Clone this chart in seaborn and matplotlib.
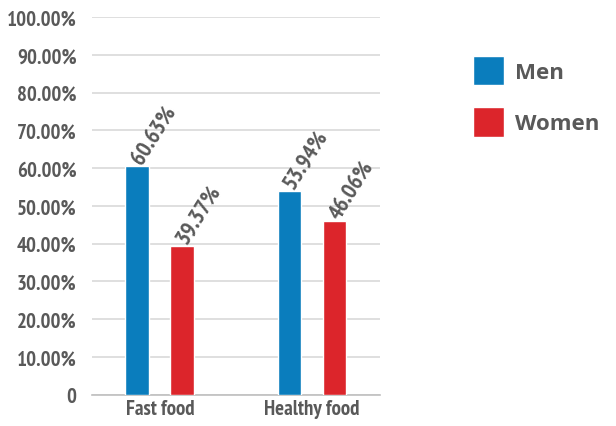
import pandas as pd
import matplotlib
matplotlib.use("Agg")
import matplotlib.pyplot as plt
import seaborn as sns
from matplotlib.ticker import FuncFormatter

categories = ["Fast food", "Healthy food"]
groups = ["Men", "Women"]
men = [60.63, 53.94]
women = [39.37, 46.06]
yticks = [0, 10, 20, 30, 40, 50, 60, 70, 80, 90, 100]

df = pd.DataFrame({
    "Food": categories * 2,
    "Group": [groups[0]] * 2 + [groups[1]] * 2,
    "Share": men + women,
})

sns.set_theme(style="white")
plt.rcParams["font.family"] = ["PT Sans Narrow", "DejaVu Sans"]
text_color = "#595959"

fig = plt.figure(figsize=(6.16, 4.27), dpi=100)
ax = fig.add_axes([0.149, 0.073, 0.468, 0.885])

palette = {"Men": "#0a7dbd", "Women": "#dc252b"}
sns.barplot(data=df, x="Food", y="Share", hue="Group", palette=palette,
            width=0.59, gap=0.47, saturation=1, ax=ax, zorder=3)

ax.set_ylim(0, 100)
ax.set_xlim(-0.447, 1.447)
ax.set_yticks(yticks)
ax.yaxis.set_major_formatter(FuncFormatter(lambda v, p: "0" if v == 0 else f"{v:.2f}%"))
ax.grid(axis="y", color="#d9d9d9", linewidth=1.2, zorder=0)
ax.set_axisbelow(True)
for s in ["top", "right", "left"]:
    ax.spines[s].set_visible(False)
ax.spines["bottom"].set_color("#bfbfbf")
ax.spines["bottom"].set_linewidth(1.2)
ax.tick_params(axis="y", length=0, pad=11, labelsize=15, labelcolor=text_color)
ax.tick_params(axis="x", length=0, pad=3, labelsize=15, labelcolor=text_color)
for t in ax.get_yticklabels() + ax.get_xticklabels():
    t.set_fontweight("bold")
ax.set_xlabel("")
ax.set_ylabel("")

for cont in ax.containers:
    labels = ax.bar_label(cont, fmt="%.2f%%", padding=3, fontsize=16.5,
                          color=text_color, fontweight="bold")
    for t in labels:
        t.set_rotation(58)
        t.set_rotation_mode("anchor")
        t.set_ha("left")
        t.set_va("center")

handles, labs = ax.get_legend_handles_labels()
ax.legend_.remove()
fig.legend(handles, labs, loc="upper left", bbox_to_anchor=(0.75, 0.893),
           frameon=False, prop={"family": "Open Sans", "weight": "bold", "size": 16},
           labelcolor=text_color, handlelength=1.4, handleheight=1.65,
           labelspacing=1.0, handletextpad=0.5, borderpad=0)

fig.savefig("out.png", dpi=100)
